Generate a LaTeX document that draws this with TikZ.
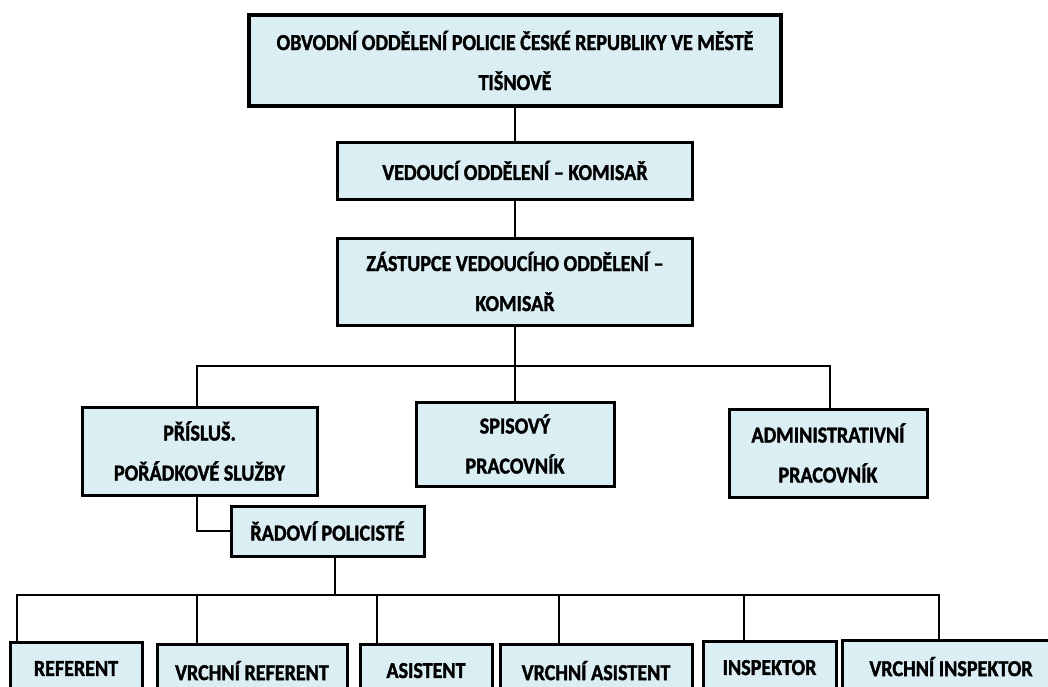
\documentclass[tikz,border=0pt]{standalone}
\usepackage{fontspec}
\setmainfont{Carlito}[FakeStretch=0.88, BoldFeatures={FakeBold=1.5}]
\definecolor{boxfill}{RGB}{218,238,243}
\begin{document}
\begin{tikzpicture}[x=1pt,y=-1pt,
  box/.style={draw=black, line width=3pt, fill=boxfill, inner sep=0pt, align=center,
    font=\fontsize{22.8}{40}\selectfont\bfseries},
  bbox/.style={box, anchor=north, minimum height=52pt, text depth=0pt},
  conn/.style={line width=2.8pt, line cap=rect}]
\useasboundingbox (0,0) rectangle (1048,686);
% nodes
\node[box, line width=4.5pt, minimum width=532pt, minimum height=91pt] (top) at (515,60.5)
  {OBVODNÍ ODDĚLENÍ POLICIE ČESKÉ REPUBLIKY VE MĚSTĚ\\TIŠNOVĚ};
\node[box, minimum width=355pt, minimum height=57pt] (ved) at (515,170.5)
  {VEDOUCÍ ODDĚLENÍ – KOMISAŘ};
\node[box, minimum width=355pt, minimum height=87pt] (zas) at (515,281.5)
  {ZÁSTUPCE VEDOUCÍHO ODDĚLENÍ –\\KOMISAŘ};
\node[box, minimum width=235pt, minimum height=88pt] (pris) at (199.5,451)
  {PŘÍSLUŠ.\\POŘÁDKOVÉ SLUŽBY};
\node[box, minimum width=198pt, minimum height=84pt] (spis) at (515,444)
  {SPISOVÝ\\PRACOVNÍK};
\node[box, minimum width=198pt, minimum height=88pt] (admin) at (828,453)
  {ADMINISTRATIVNÍ\\PRACOVNÍK};
\node[box, minimum width=193pt, minimum height=50pt] (rad) at (327.5,531)
  {ŘADOVÍ POLICISTÉ};
\node[bbox, minimum width=132pt] (ref) at (76,641) {REFERENT};
\node[bbox, minimum width=190pt] (vref) at (252,643) {VRCHNÍ REFERENT};
\node[bbox, minimum width=132pt] (asist) at (426,643) {ASISTENT};
\node[bbox, minimum width=192pt] (vasist) at (596,643) {VRCHNÍ ASISTENT};
\node[bbox, minimum width=133pt] (insp) at (769.5,640) {INSPEKTOR};
\node[bbox, minimum width=218pt] (vinsp) at (951,639) {VRCHNÍ INSPEKTOR};
% junction coordinates
\coordinate (bL) at (197,366);
\coordinate (bR) at (830,366);
\coordinate (c2) at (335,595);
\coordinate (d1) at (17,595);
\coordinate (d2) at (197,595);
\coordinate (d3) at (377,595);
\coordinate (d4) at (559,595);
\coordinate (d5) at (744,595);
\coordinate (d6) at (939,595);
% connectors
\draw[conn] (top.south) -- (ved.north);
\draw[conn] (ved.south) -- (zas.north);
\draw[conn] (zas.south) -- (spis.north);
\draw[conn] (pris.north -| bL) -- (bL) -- (bR) -- (bR |- admin.north);
\draw[conn] (pris.south -| bL) -- (bL |- rad.west) -- (rad.west);
\draw[conn] (rad.south -| c2) -- (c2);
\draw[conn] (d1) -- (d6);
\draw[conn] (d1) -- (d1 |- ref.north);
\draw[conn] (d2) -- (d2 |- vref.north);
\draw[conn] (d3) -- (d3 |- asist.north);
\draw[conn] (d4) -- (d4 |- vasist.north);
\draw[conn] (d5) -- (d5 |- insp.north);
\draw[conn] (d6) -- (d6 |- vinsp.north);
\end{tikzpicture}
\end{document}
